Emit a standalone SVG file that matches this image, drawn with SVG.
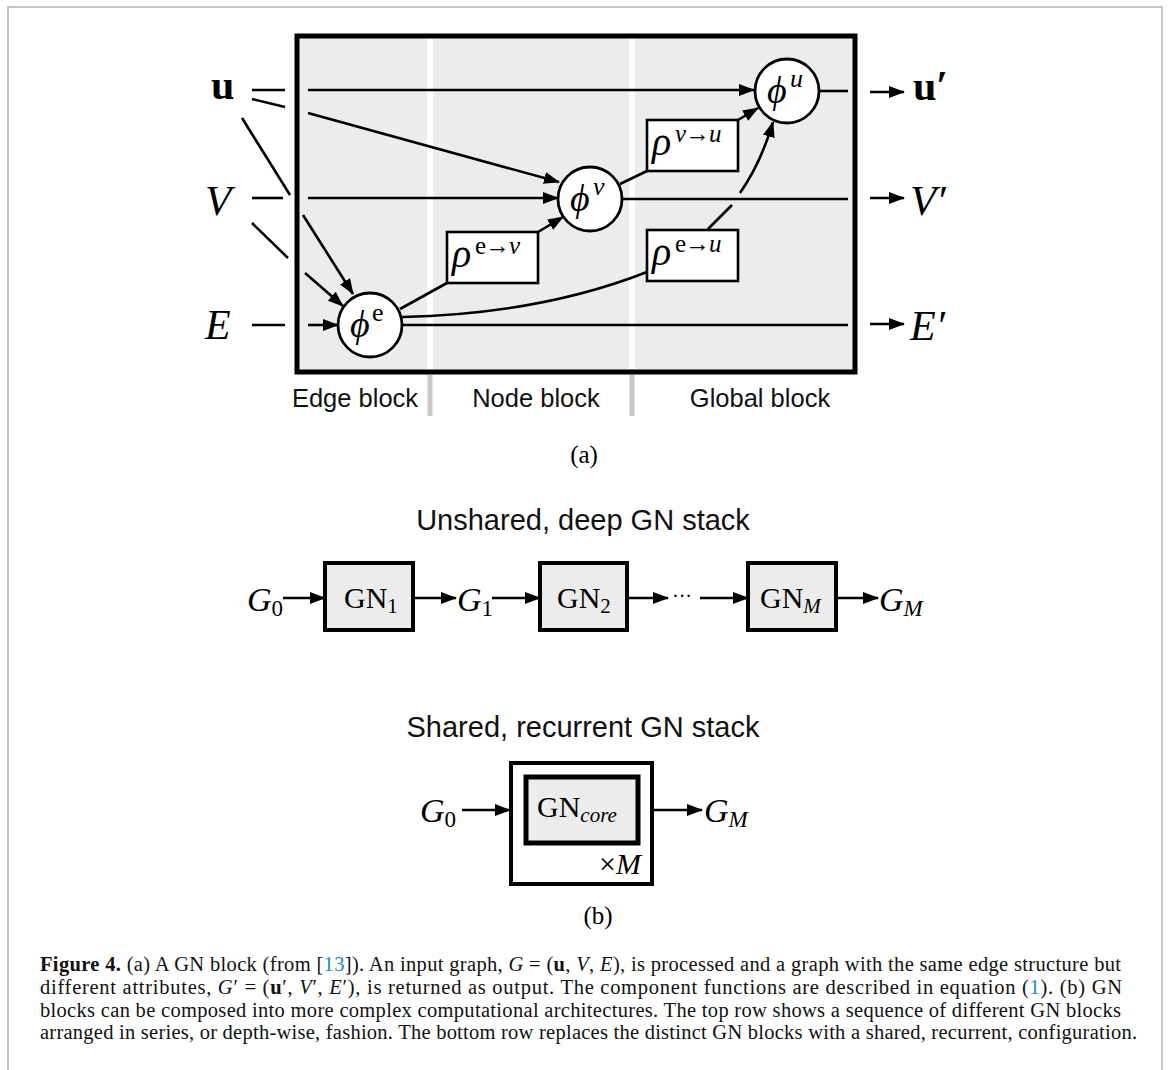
<svg xmlns="http://www.w3.org/2000/svg" width="1168" height="1070" viewBox="0 0 1168 1070">
<defs>
<marker id="ah" markerUnits="userSpaceOnUse" markerWidth="16" markerHeight="12" refX="15" refY="6" orient="auto">
<path d="M0,0 L16,6 L0,12 z" fill="#000"/>
</marker>
<style>
.m{font-family:"Liberation Serif","DejaVu Serif",serif;fill:#000}
.i{font-style:italic}
.b{font-weight:bold}
.s{font-family:"Liberation Sans",Arial,sans-serif;fill:#111}
.ln{stroke:#000;stroke-width:2.6;fill:none}
.ar{stroke:#000;stroke-width:2.6;fill:none;marker-end:url(#ah)}
.circ{fill:#fff;stroke:#000;stroke-width:2.8}
.rbox{fill:#fff;stroke:#000;stroke-width:2.6}
.gbox{fill:#ececec;stroke:#000;stroke-width:4}
.cap{font-family:"Liberation Serif","Times New Roman",serif;font-size:20.5px;fill:#111}
.lk{fill:#1a8bc6}
</style>
</defs>
<rect x="0" y="0" width="1168" height="1070" fill="#fff"/>
<path d="M8,1075 V7 H1162 V1075" fill="none" stroke="#b4b4b4" stroke-width="1.5"/>

<g id="gn-block">
<rect x="297" y="36" width="558" height="336" fill="#ececec" stroke="#000" stroke-width="5"/>
<line x1="430" y1="39" x2="430" y2="369" stroke="#fff" stroke-width="6"/>
<line x1="632" y1="39" x2="632" y2="369" stroke="#fff" stroke-width="6"/>
<line x1="430" y1="375" x2="430" y2="416" stroke="#c8c8c8" stroke-width="5"/>
<line x1="632" y1="375" x2="632" y2="416" stroke="#c8c8c8" stroke-width="5"/>
<text class="s" x="355" y="407" font-size="25.5" text-anchor="middle">Edge block</text>
<text class="s" x="536" y="407" font-size="25.5" text-anchor="middle">Node block</text>
<text class="s" x="760" y="407" font-size="25.5" text-anchor="middle">Global block</text>
</g>

<g id="connectors">
<line class="ln" x1="252" y1="90" x2="285" y2="90"/>
<line class="ar" x1="308" y1="90" x2="754" y2="90"/>
<line class="ln" x1="252" y1="99" x2="285" y2="107"/>
<line class="ar" x1="308" y1="113" x2="559" y2="182"/>
<line class="ln" x1="242" y1="118" x2="290" y2="195"/>
<line class="ar" x1="303" y1="215" x2="353" y2="294"/>
<line class="ln" x1="252" y1="198" x2="283" y2="198"/>
<line class="ar" x1="308" y1="198" x2="558" y2="198"/>
<line class="ln" x1="252" y1="223" x2="288" y2="258"/>
<line class="ar" x1="305" y1="273" x2="343" y2="306"/>
<line class="ln" x1="252" y1="325" x2="285" y2="325"/>
<line class="ar" x1="308" y1="325" x2="338" y2="325"/>
<line class="ln" x1="400" y1="309" x2="447" y2="283"/>
<line class="ar" x1="538" y1="232" x2="563" y2="217"/>
<line class="ln" x1="620" y1="184" x2="647" y2="171"/>
<line class="ar" x1="738" y1="120" x2="758" y2="108"/>
<line class="ln" x1="622" y1="199" x2="848" y2="199"/>
<path class="ln" d="M402,317 Q540,314 647,272"/>
<line class="ln" x1="708" y1="229" x2="732" y2="205"/>
<path class="ar" d="M740,193 Q761,163 773,122"/>
<line class="ln" x1="819" y1="91" x2="848" y2="91"/>
<line class="ln" x1="402" y1="325" x2="848" y2="325"/>
<line class="ar" x1="870" y1="92" x2="904" y2="92"/>
<line class="ar" x1="870" y1="198" x2="904" y2="198"/>
<line class="ar" x1="870" y1="324" x2="904" y2="324"/>
</g>

<g id="inputs">
<text class="m b" x="211" y="99" font-size="42">u</text>
<text class="m i" x="205" y="215" font-size="43">V</text>
<text class="m i" x="205" y="339" font-size="42">E</text>
</g>
<g id="outputs">
<text class="m b" x="913" y="100" font-size="42">u′</text>
<text class="m i" x="910" y="215" font-size="43">V′</text>
<text class="m i" x="910" y="340" font-size="42">E′</text>
</g>

<g id="phi-e">
<circle class="circ" cx="370" cy="325" r="32"/>
<text class="m i" x="350" y="337" font-size="38">ϕ</text>
<text class="m" x="372" y="321" font-size="26">e</text>
</g>
<g id="phi-v">
<circle class="circ" cx="590" cy="199" r="32"/>
<text class="m i" x="570" y="211" font-size="38">ϕ</text>
<text class="m i" x="593" y="195" font-size="26">v</text>
</g>
<g id="phi-u">
<circle class="circ" cx="787" cy="91" r="32"/>
<text class="m i" x="767" y="103" font-size="38">ϕ</text>
<text class="m i" x="790" y="87" font-size="26">u</text>
</g>
<g id="rho-ev">
<rect class="rbox" x="447" y="232" width="91" height="51"/>
<text class="m i" x="452" y="267" font-size="40">ρ</text>
<text class="m" x="475" y="254" font-size="25" letter-spacing="-1"><tspan>e</tspan>→<tspan font-style="italic">v</tspan></text>
</g>
<g id="rho-vu">
<rect class="rbox" x="647" y="120" width="91" height="51"/>
<text class="m i" x="652" y="155" font-size="40">ρ</text>
<text class="m" x="675" y="142" font-size="25" letter-spacing="-1"><tspan font-style="italic">v</tspan>→<tspan font-style="italic">u</tspan></text>
</g>
<g id="rho-eu">
<rect class="rbox" x="647" y="230" width="91" height="51"/>
<text class="m i" x="652" y="265" font-size="40">ρ</text>
<text class="m" x="675" y="252" font-size="25" letter-spacing="-1"><tspan>e</tspan>→<tspan font-style="italic">u</tspan></text>
</g>
<text class="m" x="584" y="463" font-size="25" text-anchor="middle">(a)</text>

<text class="s" x="583" y="530" font-size="29" text-anchor="middle">Unshared, deep GN stack</text>
<g id="row1-connectors">
<line class="ar" x1="283" y1="598" x2="325" y2="598"/>
<line class="ar" x1="413" y1="598" x2="456" y2="598"/>
<line class="ar" x1="492" y1="598" x2="540" y2="598"/>
<line class="ar" x1="627" y1="598" x2="668" y2="598"/>
<line class="ar" x1="700" y1="598" x2="748" y2="598"/>
<line class="ar" x1="836" y1="598" x2="878" y2="598"/>
</g>
<g id="G0-a"><text class="m" x="247" y="611" font-size="34"><tspan font-style="italic">G</tspan><tspan font-size="23" dy="5">0</tspan></text></g>
<g id="GN1">
<rect class="gbox" x="325" y="563" width="88" height="67"/>
<text class="m" x="344" y="608" font-size="30">GN<tspan font-size="21" dy="5">1</tspan></text>
</g>
<g id="G1"><text class="m" x="457" y="611" font-size="34"><tspan font-style="italic">G</tspan><tspan font-size="23" dy="5">1</tspan></text></g>
<g id="GN2">
<rect class="gbox" x="540" y="563" width="87" height="67"/>
<text class="m" x="557" y="608" font-size="30">GN<tspan font-size="21" dy="5">2</tspan></text>
</g>
<g id="dots"><text class="m" x="672" y="603" font-size="20">···</text></g>
<g id="GNM">
<rect class="gbox" x="748" y="563" width="88" height="67"/>
<text class="m" x="760" y="608" font-size="30">GN<tspan font-size="21" dy="5" font-style="italic">M</tspan></text>
</g>
<g id="GM-a"><text class="m" x="879" y="611" font-size="34"><tspan font-style="italic">G</tspan><tspan font-size="23" dy="5" font-style="italic">M</tspan></text></g>

<text class="s" x="583" y="737" font-size="29" text-anchor="middle">Shared, recurrent GN stack</text>
<g id="row2-connectors">
<line class="ar" x1="462" y1="810" x2="510" y2="810"/>
<line class="ar" x1="653" y1="810" x2="702" y2="810"/>
</g>
<g id="G0-b"><text class="m" x="420" y="822" font-size="34"><tspan font-style="italic">G</tspan><tspan font-size="23" dy="5">0</tspan></text></g>
<g id="GNcore">
<rect x="511" y="763" width="141" height="121" fill="#fff" stroke="#000" stroke-width="4"/>
<rect x="526" y="777" width="112" height="66" fill="#ececec" stroke="#000" stroke-width="5"/>
<text class="m" x="537" y="817" font-size="30">GN<tspan font-size="21" dy="5" font-style="italic">core</tspan></text>
<text class="m" x="641" y="874" font-size="30" text-anchor="end">×<tspan font-style="italic">M</tspan></text>
</g>
<g id="GM-b"><text class="m" x="704" y="822" font-size="34"><tspan font-style="italic">G</tspan><tspan font-size="23" dy="5" font-style="italic">M</tspan></text></g>
<text class="m" x="598" y="924" font-size="25" text-anchor="middle">(b)</text>

<g id="caption">
<text class="cap" x="40" y="971" textLength="1081" lengthAdjust="spacing"><tspan font-weight="bold">Figure 4.</tspan> (a) A GN block (from [<tspan class="lk">13</tspan>]). An input graph, <tspan font-style="italic">G</tspan> = (<tspan font-weight="bold">u</tspan>, <tspan font-style="italic">V</tspan>, <tspan font-style="italic">E</tspan>), is processed and a graph with the same edge structure but</text>
<text class="cap" x="40" y="994" textLength="1082" lengthAdjust="spacing">different attributes, <tspan font-style="italic">G</tspan>′ = (<tspan font-weight="bold">u</tspan>′, <tspan font-style="italic">V</tspan>′, <tspan font-style="italic">E</tspan>′), is returned as output. The component functions are described in equation (<tspan class="lk">1</tspan>). (b) GN</text>
<text class="cap" x="40" y="1017" textLength="1081" lengthAdjust="spacing">blocks can be composed into more complex computational architectures. The top row shows a sequence of different GN blocks</text>
<text class="cap" x="40" y="1039" textLength="1097" lengthAdjust="spacing">arranged in series, or depth-wise, fashion. The bottom row replaces the distinct GN blocks with a shared, recurrent, configuration.</text>
</g>
</svg>
